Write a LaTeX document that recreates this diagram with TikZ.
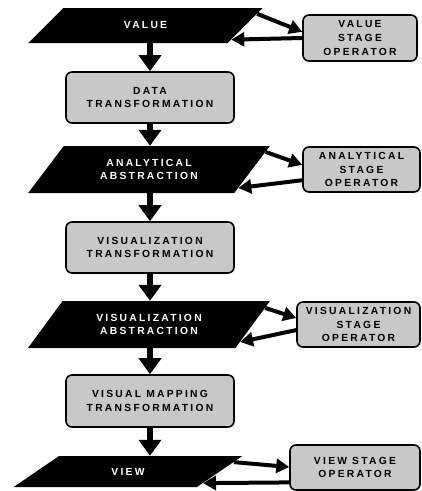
\documentclass[tikz,border=0pt]{standalone}
\usepackage{fontspec}
\usepackage{xcolor}
\newfontfamily\stagefont{Liberation Sans}[LetterSpace=22]
\usetikzlibrary{shapes.geometric,arrows.meta,calc}
\definecolor{stagegray}{RGB}{200, 200, 200}

\begin{document}
\begin{tikzpicture}[x=1pt, y=-1pt,
  stagebox/.style={draw=black, line width=1.6pt, rounded corners=6pt, fill=stagegray, align=center, inner sep=0pt, font=\stagefont\bfseries\fontsize{10.3}{13.8}\selectfont},
  abstraction/.style={trapezium, trapezium stretches=true, fill=black, text=white, inner sep=0pt, align=center, font=\stagefont\bfseries\fontsize{10.3}{13.8}\selectfont},
  flow/.style={-{Triangle[width=22pt,length=16pt]}, line width=6.5pt},
  feed/.style={-{Triangle[width=14pt,length=13pt]}, line width=4pt}]
\fill[white] (0,0) rectangle (422,491);
\useasboundingbox (0,0) rectangle (422,491);

% abstractions (left column)
\node[abstraction, trapezium left angle=38, trapezium right angle=142, minimum width=235, minimum height=35] (val) at (145.5,25.5) {VALUE};
\node[abstraction, trapezium left angle=46, trapezium right angle=134, minimum width=242, minimum height=47] (ana) at (149,169.5) {ANALYTICAL\\ABSTRACTION};
\node[abstraction, trapezium left angle=45, trapezium right angle=135, minimum width=242, minimum height=47] (visabs) at (149,324.5) {VISUALIZATION\\ABSTRACTION};
\node[abstraction, trapezium left angle=33, trapezium right angle=147, minimum width=230, minimum height=31] (view) at (128,471.5) {VIEW};

% transformations
\node[stagebox, minimum width=168, minimum height=51] (data) at (150,97.5) {DATA\\TRANSFORMATION};
\node[stagebox, minimum width=168, minimum height=51] (vistr) at (150,247.5) {VISUALIZATION\\TRANSFORMATION};
\node[stagebox, minimum width=168, minimum height=52] (map) at (150,401) {VISUAL MAPPING\\TRANSFORMATION};

% stage operators
\node[stagebox, minimum width=114, minimum height=46] (valop) at (360,38) {VALUE\\STAGE\\OPERATOR};
\node[stagebox, minimum width=117, minimum height=45] (anaop) at (361.5,169.5) {ANALYTICAL\\STAGE\\OPERATOR};
\node[stagebox, minimum width=123, minimum height=45] (visop) at (358.5,324.5) {VISUALIZATION\\STAGE\\OPERATOR};
\node[stagebox, minimum width=130, minimum height=45] (viewop) at (355,467.5) {VIEW STAGE\\OPERATOR};

% pipeline
\draw[flow] (val.south -| data.north) -- (data.north);
\draw[flow] (data.south) -- (data.south |- ana.north);
\draw[flow] (ana.south -| data.north) -- (vistr.north);
\draw[flow] (vistr.south) -- (vistr.south |- visabs.north);
\draw[flow] (visabs.south -| map.north) -- (map.north);
\draw[flow] (map.south) -- (map.south |- view.north);

% operators
\draw[feed] ($(val.top right corner)!0.17!(val.bottom right corner)$) -- ($(valop.north west)!0.37!(valop.south west)$);
\draw[feed] ($(valop.north west)!0.5!(valop.south west)$) -- ($(val.top right corner)!0.9!(val.bottom right corner)$);
\draw[feed] ($(ana.top right corner)!0.13!(ana.bottom right corner)$) -- ($(anaop.north west)!0.4!(anaop.south west)$);
\draw[feed] ($(anaop.north west)!0.73!(anaop.south west)$) -- ($(ana.top right corner)!0.89!(ana.bottom right corner)$);
\draw[feed] ($(visabs.top right corner)!0.15!(visabs.bottom right corner)$) -- ($(visop.north west)!0.36!(visop.south west)$);
\draw[feed] ($(visop.north west)!0.62!(visop.south west)$) -- ($(visabs.top right corner)!0.87!(visabs.bottom right corner)$);
\draw[feed] ($(view.top right corner)!0.2!(view.bottom right corner)$) -- ($(viewop.north west)!0.49!(viewop.south west)$);
\draw[feed] ($(viewop.north west)!0.82!(viewop.south west)$) -- ($(view.top right corner)!0.87!(view.bottom right corner)$);
\end{tikzpicture}
\end{document}
